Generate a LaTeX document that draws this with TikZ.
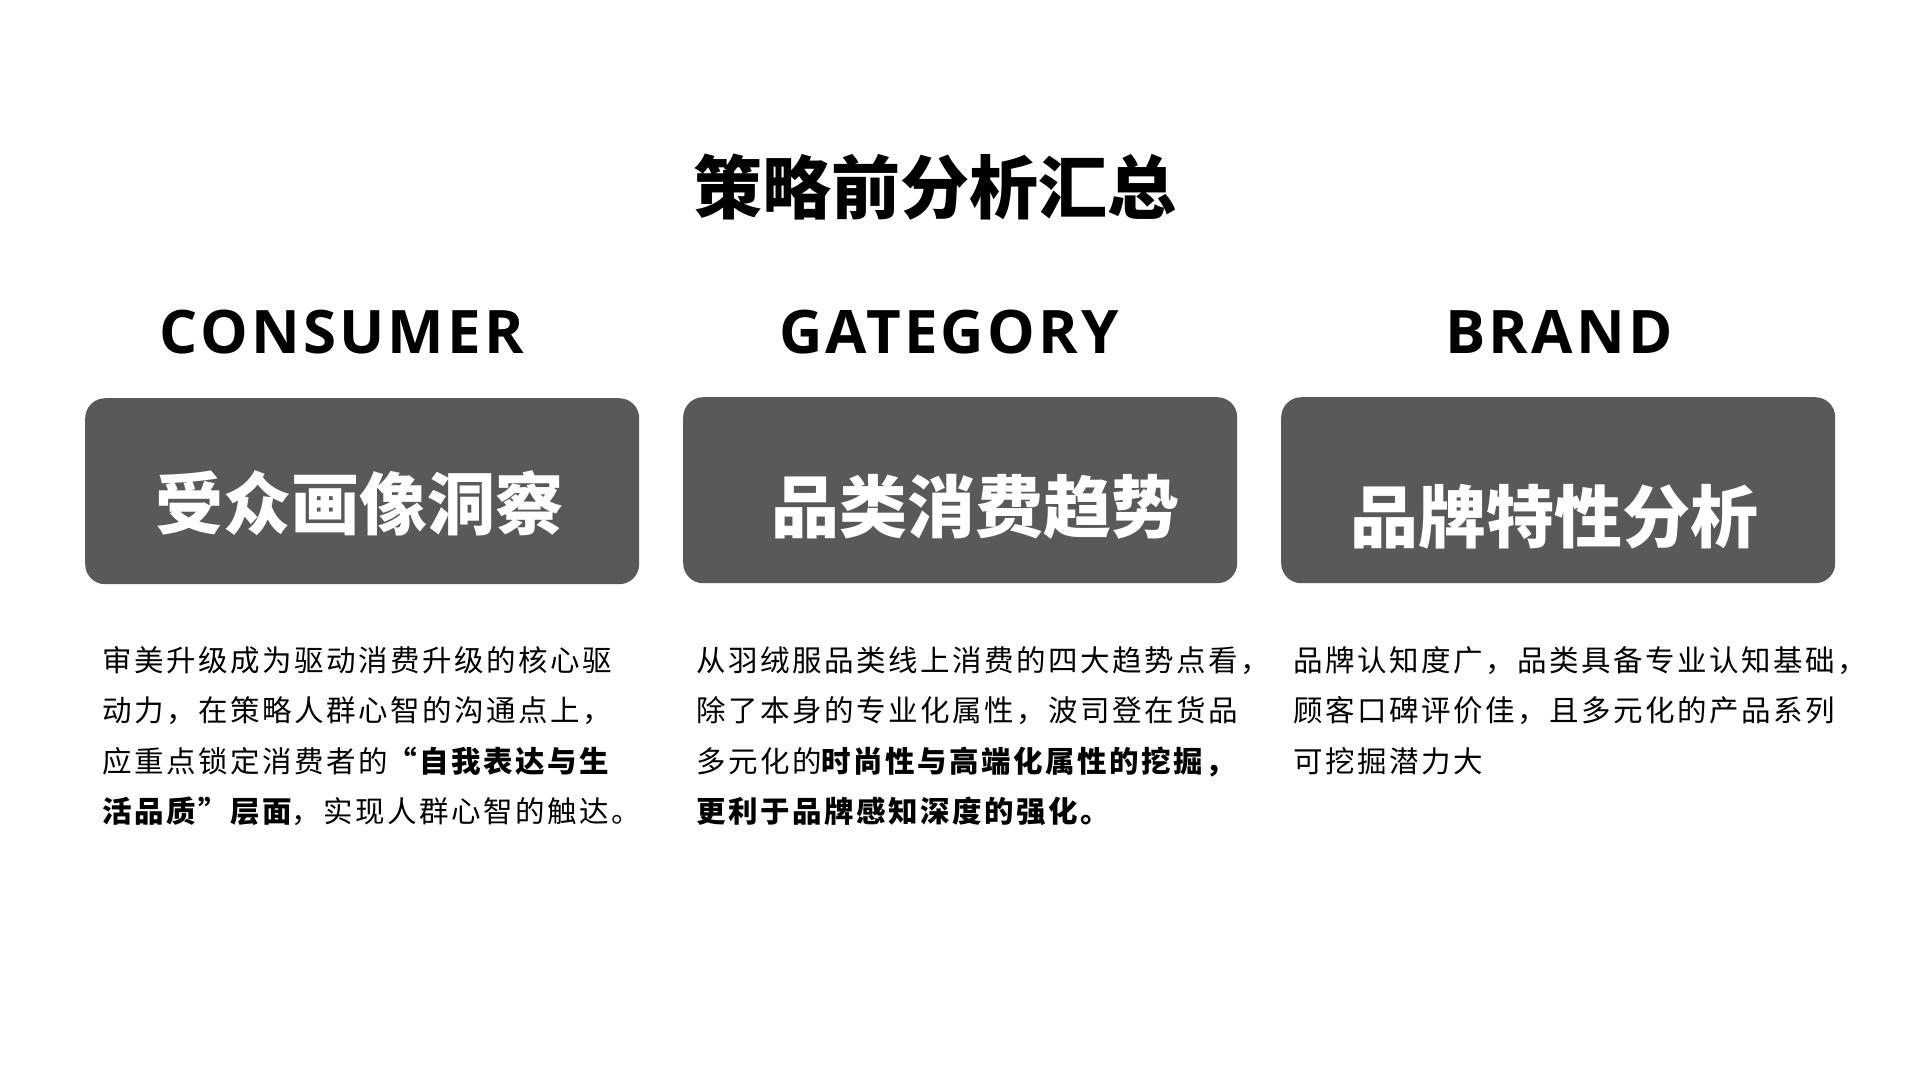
\documentclass[tikz,border=0pt]{standalone}
\usepackage{fontspec}
\setmainfont{Noto Sans CJK SC}
\newfontfamily\bodyfont[LetterSpace=8.5]{Noto Sans CJK SC}
\newfontfamily\headfont[LetterSpace=5.3]{Open Sans}
\definecolor{boxgray}{HTML}{595959}
\tikzset{
  cardbox/.style={fill=boxgray,rounded corners=20pt,minimum width=554pt,minimum height=186pt,inner sep=0pt,anchor=north west},
  cardtext/.style={text=white,inner sep=0pt,font=\bfseries\fontsize{68}{80}\selectfont},
  headtext/.style={inner sep=0pt,font=\headfont\bfseries\fontsize{60}{72}\selectfont},
  bodytext/.style={inner sep=0pt,anchor=north west,align=left,font=\bodyfont\fontsize{29.5}{50.5}\selectfont},
}
\begin{document}
\begin{tikzpicture}[x=1pt,y=-1pt]
  \useasboundingbox (0,0) rectangle (1920,1080);
  \node[inner sep=0pt,font=\bfseries\fontsize{69}{80}\selectfont] (title) at (935,187) {策略前分析汇总};

  \node[headtext] (consumer) at (342,332) {CONSUMER};
  \node[headtext] (category) at (949,332) {GATEGORY};
  \node[headtext] (brand) at (1559,332) {BRAND};

  \node[cardbox] (audience) at (85,398) {};
  \node[cardbox] (trend) at (683,397) {};
  \node[cardbox] (feature) at (1281,397) {};

  \node[cardtext] (audiencetext) at (359,503) {受众画像洞察};
  \node[cardtext] (trendtext) at (975,507) {品类消费趋势};
  \node[cardtext] (featuretext) at (1554,517) {品牌特性分析};

  \node[bodytext] (audiencebody) at (102,646) {审美升级成为驱动消费升级的核心驱\\动力，在策略人群心智的沟通点上，\\应重点锁定消费者的{\bfseries “自我表达与生}\\{\bfseries 活品质”层面}，实现人群心智的触达。};
  \node[bodytext] (trendbody) at (696,646) {从羽绒服品类线上消费的四大趋势点看，\\除了本身的专业化属性，波司登在货品\\多元化的{\bfseries 时尚性与高端化属性的挖掘，}\\{\bfseries 更利于品牌感知深度的强化。}};
  \node[bodytext] (featurebody) at (1293,646) {品牌认知度广，品类具备专业认知基础，\\顾客口碑评价佳，且多元化的产品系列\\可挖掘潜力大};
\end{tikzpicture}
\end{document}
